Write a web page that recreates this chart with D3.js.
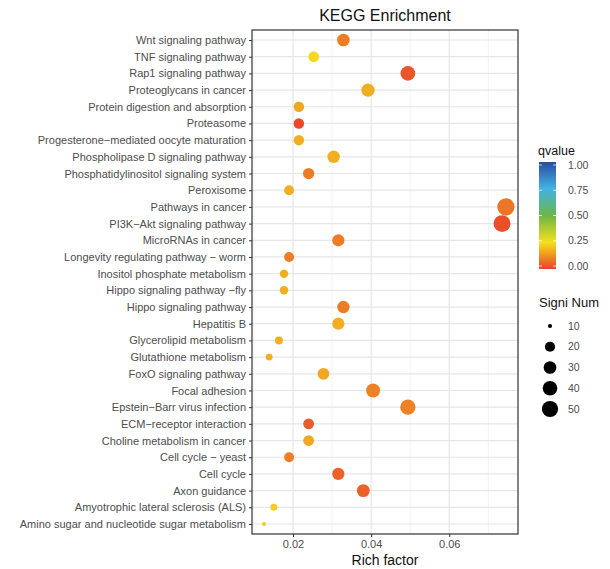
<!DOCTYPE html>
<html>
<head>
<meta charset="utf-8">
<script src="https://cdn.jsdelivr.net/npm/d3@7"></script>
<style>
  body { margin: 0; background: #fff; }
  text { font-family: "Liberation Sans", Arial, sans-serif; }
</style>
</head>
<body>
<div id="chart"></div>
<script>
// pathways, listed from the bottom row to the top row
var pathways = [
  "Amino sugar and nucleotide sugar metabolism",
  "Amyotrophic lateral sclerosis (ALS)",
  "Axon guidance",
  "Cell cycle",
  "Cell cycle \u2212 yeast",
  "Choline metabolism in cancer",
  "ECM\u2212receptor interaction",
  "Epstein\u2212Barr virus infection",
  "Focal adhesion",
  "FoxO signaling pathway",
  "Glutathione metabolism",
  "Glycerolipid metabolism",
  "Hepatitis B",
  "Hippo signaling pathway",
  "Hippo signaling pathway \u2212fly",
  "Inositol phosphate metabolism",
  "Longevity regulating pathway \u2212 worm",
  "MicroRNAs in cancer",
  "PI3K\u2212Akt signaling pathway",
  "Pathways in cancer",
  "Peroxisome",
  "Phosphatidylinositol signaling system",
  "Phospholipase D signaling pathway",
  "Progesterone\u2212mediated oocyte maturation",
  "Proteasome",
  "Protein digestion and absorption",
  "Proteoglycans in cancer",
  "Rap1 signaling pathway",
  "TNF signaling pathway",
  "Wnt signaling pathway"
];
var richFactor = [0.0126, 0.0151, 0.0380, 0.0316, 0.0190, 0.0240, 0.0240, 0.0494, 0.0405, 0.0278,
                  0.0139, 0.0164, 0.0316, 0.0329, 0.0177, 0.0177, 0.0190, 0.0316, 0.0735, 0.0745,
                  0.0190, 0.0240, 0.0304, 0.0215, 0.0215, 0.0215, 0.0392, 0.0494, 0.0253, 0.0329];
var signiNum = [10, 12, 31, 28, 19, 22, 22, 44, 37, 26,
                12, 14, 28, 29, 15, 15, 19, 28, 55, 57,
                19, 24, 29, 21, 21, 21, 33, 41, 22, 30];
var qvalue = [0.22, 0.22, 0.05, 0.05, 0.09, 0.16, 0.04, 0.10, 0.10, 0.16,
              0.17, 0.17, 0.17, 0.09, 0.17, 0.17, 0.09, 0.09, 0.02, 0.08,
              0.17, 0.09, 0.17, 0.17, 0.01, 0.16, 0.17, 0.03, 0.24, 0.09];

var xTicks = [0.02, 0.04, 0.06];
var xMinor = [0.01, 0.03, 0.05, 0.07];
var colorStops = [0, 0.25, 0.5, 0.75, 1];
var colorList = ["#e8432b", "#f5e01c", "#6cb649", "#42b3e5", "#2a4d9f"];
var colorTicks = [0, 0.25, 0.5, 0.75, 1];
var sizeTicks = [10, 20, 30, 40, 50];

var data = pathways.map(function(p, i) {
  return {name: p, rich: richFactor[i], count: signiNum[i], q: qvalue[i]};
});

var W = 610, H = 569;
var margin = {top: 30, left: 252, right: 92, bottom: 35};
var pw = W - margin.left - margin.right,
    ph = H - margin.top - margin.bottom;

var svg = d3.select("#chart").append("svg")
  .attr("width", W).attr("height", H);

// x scale with ggplot style 5% expansion
var ext = d3.extent(richFactor), pad = (ext[1] - ext[0]) * 0.05;
var x = d3.scaleLinear().domain([ext[0] - pad, ext[1] + pad]).range([0, pw]);
var y = d3.scalePoint().domain(pathways.slice().reverse()).range([0, ph]).padding(0.6);

var color = d3.scaleLinear().domain(colorStops).range(colorList).clamp(true);

// size: rescale to 0..1 then sqrt (area palette)
var sizeExt = d3.extent(signiNum.concat(sizeTicks));
var sizeLin = d3.scaleLinear().domain(sizeExt).range([0, 1]);
var rScale = d3.scaleSqrt().domain([0, 1]).range([2.1, 8.6]);
function radius(v) { return rScale(sizeLin(v)); }

var g = svg.append("g")
  .attr("transform", "translate(" + margin.left + "," + margin.top + ")");

// grid lines
g.selectAll("line.minor").data(xMinor).enter().append("line")
  .attr("x1", function(d) { return x(d); }).attr("x2", function(d) { return x(d); })
  .attr("y1", 0).attr("y2", ph)
  .attr("stroke", "#f2f2f2").attr("stroke-width", 1);
g.selectAll("line.major").data(xTicks).enter().append("line")
  .attr("x1", function(d) { return x(d); }).attr("x2", function(d) { return x(d); })
  .attr("y1", 0).attr("y2", ph)
  .attr("stroke", "#e6e6e6").attr("stroke-width", 1.2);
g.selectAll("line.hgrid").data(pathways).enter().append("line")
  .attr("x1", 0).attr("x2", pw)
  .attr("y1", function(d) { return y(d); }).attr("y2", function(d) { return y(d); })
  .attr("stroke", "#e6e6e6").attr("stroke-width", 1.2);

// points
g.selectAll("circle.dot").data(data).enter().append("circle")
  .attr("cx", function(d) { return x(d.rich); })
  .attr("cy", function(d) { return y(d.name); })
  .attr("r", function(d) { return radius(d.count); })
  .attr("fill", function(d) { return color(d.q); });

// panel border
g.append("rect").attr("width", pw).attr("height", ph)
  .attr("fill", "none").attr("stroke", "#333").attr("stroke-width", 1.2);

// axes
var xAxis = g.append("g").attr("transform", "translate(0," + ph + ")")
  .call(d3.axisBottom(x).tickValues(xTicks).tickSize(3).tickPadding(3).tickFormat(d3.format(".2f")));
var yAxis = g.append("g")
  .call(d3.axisLeft(y).tickSize(3).tickPadding(3));
[xAxis, yAxis].forEach(function(a) {
  a.select(".domain").remove();
  a.selectAll(".tick line").attr("stroke", "#333");
  a.selectAll(".tick text").attr("fill", "#4d4d4d")
    .style("font-size", "11px").style("font-family", "'Liberation Sans', Arial, sans-serif");
});

// titles
svg.append("text").attr("x", margin.left + pw / 2).attr("y", 21)
  .attr("text-anchor", "middle").style("font-size", "16px").attr("fill", "#111")
  .text("KEGG Enrichment");
svg.append("text").attr("x", margin.left + pw / 2).attr("y", 565)
  .attr("text-anchor", "middle").style("font-size", "14px").attr("fill", "#111")
  .text("Rich factor");

// color legend
var cl = svg.append("g").attr("transform", "translate(539,162)");
var barH = 107, barW = 17;
var defs = svg.append("defs");
var grad = defs.append("linearGradient").attr("id", "qgrad")
  .attr("x1", 0).attr("y1", 1).attr("x2", 0).attr("y2", 0);
grad.selectAll("stop").data(colorStops).enter().append("stop")
  .attr("offset", function(d) { return d; })
  .attr("stop-color", function(d, i) { return colorList[i]; });
cl.append("text").attr("x", -1).attr("y", -7).style("font-size", "12.5px").attr("fill", "#111").text("qvalue");
cl.append("rect").attr("width", barW).attr("height", barH).attr("fill", "url(#qgrad)");
var cy = d3.scaleLinear().domain([0, 1]).range([barH - 3, 3]);
cl.selectAll("line.ct").data(colorTicks).enter().append("g").each(function(d) {
  var t = d3.select(this);
  t.append("line").attr("x1", 0).attr("x2", 3).attr("y1", cy(d)).attr("y2", cy(d)).attr("stroke", "#fff").attr("opacity", 0.7);
  t.append("line").attr("x1", barW - 3).attr("x2", barW).attr("y1", cy(d)).attr("y2", cy(d)).attr("stroke", "#fff").attr("opacity", 0.7);
  t.append("text").attr("x", barW + 12).attr("y", cy(d)).attr("dy", "0.35em")
    .style("font-size", "10.5px").attr("fill", "#4d4d4d").text(d3.format(".2f")(d));
});

// size legend
var sl = svg.append("g").attr("transform", "translate(550,0)");
svg.append("text").attr("x", 539).attr("y", 307).style("font-size", "13px").attr("fill", "#111").text("Signi Num");
var sy = d3.scalePoint().domain(sizeTicks).range([326, 409]);
sl.selectAll("circle").data(sizeTicks).enter().append("circle")
  .attr("cx", 0).attr("cy", function(d) { return sy(d); })
  .attr("r", function(d) { return radius(d); }).attr("fill", "#000");
sl.selectAll("text").data(sizeTicks).enter().append("text")
  .attr("x", 18).attr("y", function(d) { return sy(d); }).attr("dy", "0.35em")
  .style("font-size", "10.5px").attr("fill", "#4d4d4d").text(function(d) { return d; });
</script>
</body>
</html>
